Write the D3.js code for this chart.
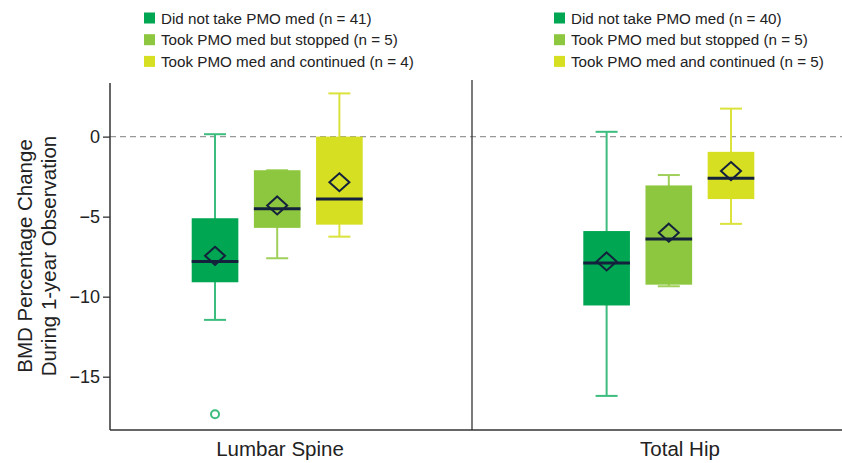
<!DOCTYPE html>
<html>
<head>
<meta charset="utf-8">
<script src="https://cdn.jsdelivr.net/npm/d3@7"></script>
<style>
  body { margin: 0; background: #fff; }
  text { font-family: "Liberation Sans", Arial, sans-serif; fill: #222; }
</style>
</head>
<body>
<svg></svg>
<script>
const width = 842, height = 463;
const svg = d3.select("svg").attr("width", width).attr("height", height);

// data
const sites = ["Lumbar Spine", "Total Hip"];
const groups = ["Did not take PMO med", "Took PMO med but stopped", "Took PMO med and continued"];
const counts = [[41, 5, 4], [40, 5, 5]];
// [lower whisker, q1, median, q3, upper whisker, mean] per group
const spineStats = [
  [-11.45, -9.1, -7.8, -5.1, 0.15, -7.45],
  [-7.6, -5.7, -4.5, -2.1, -2.1, -4.3],
  [-6.25, -5.5, -3.9, 0, 2.7, -2.85]
];
const hipStats = [
  [-16.2, -10.55, -7.9, -5.9, 0.3, -7.8],
  [-9.35, -9.25, -6.4, -3.05, -2.4, -6.0],
  [-5.45, -3.9, -2.6, -0.95, 1.75, -2.15]
];
const outliers = [[{ g: 0, v: -17.35 }], []];
const yTicks = [0, -5, -10, -15];

const fills = ["#00a651", "#8dc63f", "#d7df23"];
const strokes = ["#3dbd7d", "#9fd05a", "#dbe23c"];
const navy = "#14213d";

const plotLeft = 110, plotRight = 842, plotTop = 83, plotBottom = 430, divX = 472;

const y = d3.scaleLinear().domain([-18.33, 3.35]).range([plotBottom, plotTop]);
const panel = d3.scaleBand().domain(sites).range([plotLeft, plotLeft + 2 * (divX - plotLeft)]);
// box positions inside each panel
const inner = d3.scaleBand().domain(groups).range([0, 171]).paddingInner(0.25).paddingOuter(0);
const panelShift = [81.7, 111.3];

// dashed zero line
svg.append("line")
  .attr("x1", plotLeft).attr("x2", plotRight)
  .attr("y1", y(0)).attr("y2", y(0))
  .attr("stroke", "#999").attr("stroke-width", 1.3).attr("stroke-dasharray", "6,4");

// axes
const yAxis = d3.axisLeft(y).tickValues(yTicks).tickSize(7).tickPadding(3)
  .tickFormat(d => d < 0 ? "\u2212" + Math.abs(d) : d);
const ya = svg.append("g").attr("transform", `translate(${plotLeft},0)`).call(yAxis);
ya.select(".domain").remove();
ya.selectAll(".tick line").attr("stroke", "#333").attr("stroke-width", 1.3);
ya.selectAll(".tick text").style("font-size", "18px").attr("fill", "#222");

svg.append("line").attr("x1", plotLeft).attr("x2", plotLeft).attr("y1", plotTop).attr("y2", plotBottom)
  .attr("stroke", "#333").attr("stroke-width", 1.5);
svg.append("line").attr("x1", plotLeft).attr("x2", plotRight).attr("y1", plotBottom).attr("y2", plotBottom)
  .attr("stroke", "#333").attr("stroke-width", 1.5);
svg.append("line").attr("x1", divX).attr("x2", divX).attr("y1", 80).attr("y2", plotBottom)
  .attr("stroke", "#333").attr("stroke-width", 1.3);

// y title
const yt = svg.append("text").attr("transform", `translate(0,256) rotate(-90)`)
  .attr("text-anchor", "middle").style("font-size", "20.5px");
yt.append("tspan").attr("x", 0).attr("y", 32).text("BMD Percentage Change");
yt.append("tspan").attr("x", 0).attr("y", 56).text("During 1-year Observation");

// site labels
const labelX = [280, 680];
sites.forEach((s, i) => {
  svg.append("text").attr("x", labelX[i]).attr("y", 456)
    .attr("text-anchor", "middle").style("font-size", "20.5px").text(s);
});

// boxes
[spineStats, hipStats].forEach((stats, si) => {
  const x0 = panel(sites[si]) + panelShift[si];
  const g = svg.append("g").attr("transform", `translate(${x0},0)`);
  const bw = inner.bandwidth();
  stats.forEach((st, gi) => {
    const [lo, q1, med, q3, hi, mean] = st;
    const bx = inner(groups[gi]);
    const cx = bx + bw / 2;
    const cap = 22;
    g.append("line").attr("x1", cx).attr("x2", cx).attr("y1", y(hi)).attr("y2", y(lo))
      .attr("stroke", strokes[gi]).attr("stroke-width", 2);
    g.append("line").attr("x1", cx - cap / 2).attr("x2", cx + cap / 2).attr("y1", y(hi)).attr("y2", y(hi))
      .attr("stroke", strokes[gi]).attr("stroke-width", 2);
    g.append("line").attr("x1", cx - cap / 2).attr("x2", cx + cap / 2).attr("y1", y(lo)).attr("y2", y(lo))
      .attr("stroke", strokes[gi]).attr("stroke-width", 2);
    g.append("rect").attr("x", bx).attr("width", bw)
      .attr("y", y(q3)).attr("height", y(q1) - y(q3))
      .attr("fill", fills[gi]);
    g.append("line").attr("x1", bx).attr("x2", bx + bw).attr("y1", y(med)).attr("y2", y(med))
      .attr("stroke", navy).attr("stroke-width", 3);
    g.append("path").attr("transform", `translate(${cx},${y(mean)})`)
      .attr("d", "M0,-9L10,0L0,9L-10,0Z")
      .attr("fill", "none").attr("stroke", navy).attr("stroke-width", 2);
  });
  outliers[si].forEach(o => {
    g.append("circle").attr("cx", inner(groups[o.g]) + bw / 2).attr("cy", y(o.v)).attr("r", 4)
      .attr("fill", "none").attr("stroke", strokes[o.g]).attr("stroke-width", 2);
  });
});

// legends
const legendX = [144, 554];
counts.forEach((c, si) => {
  const lg = svg.append("g").attr("transform", `translate(${legendX[si]},0)`);
  groups.forEach((name, gi) => {
    const cy = 18 + gi * 21.7;
    lg.append("rect").attr("x", 0).attr("y", cy - 5.5).attr("width", 11).attr("height", 11).attr("fill", fills[gi]);
    lg.append("text").attr("x", 17).attr("y", cy + 5.5).style("font-size", "15.2px")
      .text(`${name} (n = ${c[gi]})`);
  });
});
</script>
</body>
</html>
